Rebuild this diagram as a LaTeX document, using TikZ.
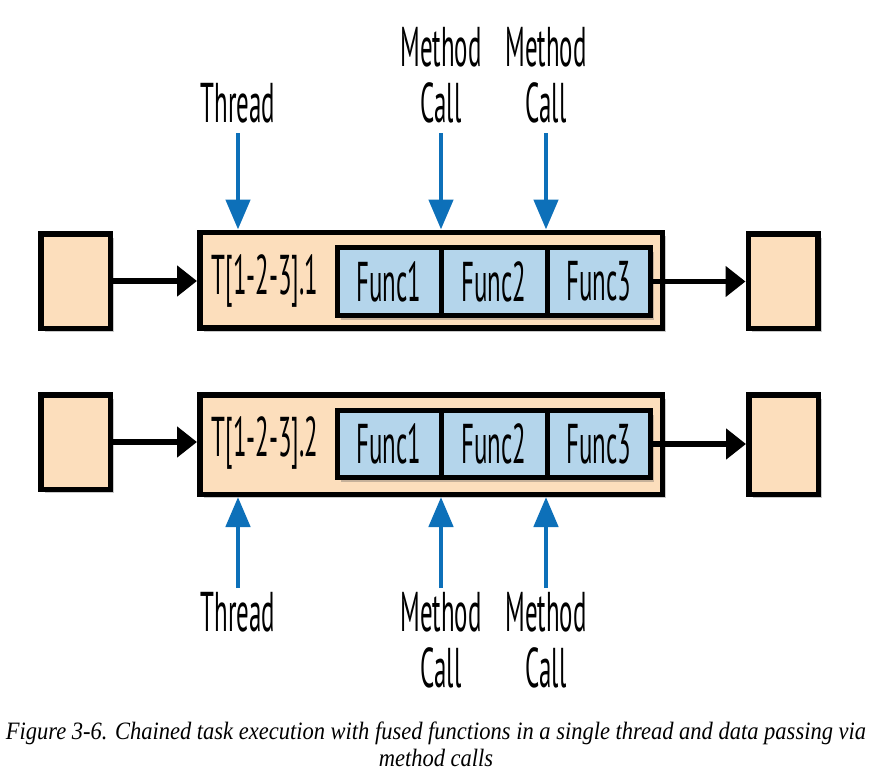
\documentclass[tikz,border=0pt]{standalone}
\usepackage{fontspec}
\setmainfont{Liberation Serif}
\newfontfamily\lblfont[FakeStretch=0.445]{PT Sans}
\newfontfamily\capfont[FakeStretch=0.9]{Liberation Serif}
\usetikzlibrary{arrows.meta,shadows}
\definecolor{peach}{HTML}{FCDEBC}
\definecolor{lblue}{HTML}{B4D5EB}
\definecolor{arrblue}{HTML}{0D70B9}
\tikzset{
  shd/.style={drop shadow={shadow xshift=4pt,shadow yshift=-4pt,opacity=0.3,fill=black!70}},
  smallbox/.style={draw=black,line width=5.5pt,fill=peach,minimum width=69.5pt,minimum height=94.5pt,inner sep=0pt,shd},
  mainbox/.style={draw=black,line width=5.5pt,fill=peach,minimum width=462.5pt,minimum height=95.5pt,inner sep=0pt,shd},
  cell/.style={draw=black,line width=5pt,fill=lblue,minimum height=68pt,inner sep=0pt,shd,font=\lblfont\fontsize{56}{56}\selectfont},
  txt/.style={inner sep=0pt,font=\lblfont\fontsize{56}{56}\selectfont},
  lbl/.style={inner sep=0pt,align=center,font=\lblfont\fontsize{56}{56}\selectfont},
  blarrow/.style={line width=5.5pt,-{Triangle[length=20pt,width=30pt]}},
  bluearrow/.style={line width=4.7pt,draw=arrblue,-{Triangle[length=30pt,width=24pt]},arrblue},
}
\begin{document}
\begin{tikzpicture}[x=1pt,y=-1pt]
\useasboundingbox (0,0) rectangle (876,784);
% Row 1
\node[smallbox] (lb1) at (75.5,281) {};
\node[mainbox] (main1) at (431,280) {};
\node[smallbox] (rb1) at (783,281) {};
\node[cell,minimum width=104pt] (f11) at (389,281.5) {Func1};
\node[cell,minimum width=106pt] (f12) at (494,281.5) {Func2};
\node[cell,minimum width=103pt] (f13) at (598.5,281.5) {Func3};
\node[txt] (t1) at (265,281) {T[1-2-3].1};
\draw[blarrow] (lb1.east) -- (lb1.east -| main1.west);
\draw[blarrow] (f13.east) -- (f13.east -| rb1.west);
% top labels
\node[lbl,anchor=south] (th1) at (238,123) {Thread};
\node[lbl,anchor=south] (mc1) at (441,123) {Method\\Call};
\node[lbl,anchor=south] (mc2) at (546,123) {Method\\Call};
\draw[bluearrow,shorten <=10pt] (th1.south) -- (th1.south |- main1.north);
\draw[bluearrow,shorten <=10pt] (mc1.south) -- (mc1.south |- main1.north);
\draw[bluearrow,shorten <=10pt] (mc2.south) -- (mc2.south |- main1.north);
% Row 2
\node[smallbox] (lb2) at (75.5,442) {};
\node[mainbox,minimum height=99.5pt] (main2) at (431,444.5) {};
\node[smallbox,minimum height=99.5pt] (rb2) at (783.5,444.5) {};
\node[cell,minimum width=104pt,minimum height=67pt] (f21) at (389,444) {Func1};
\node[cell,minimum width=106pt,minimum height=67pt] (f22) at (494,444) {Func2};
\node[cell,minimum width=103pt,minimum height=67pt] (f23) at (598.5,444) {Func3};
\node[txt] (t2) at (265,443) {T[1-2-3].2};
\draw[blarrow] (lb2.east) -- (lb2.east -| main2.west);
\draw[blarrow] (f23.east) -- (f23.east -| rb2.west);
% bottom labels
\node[lbl,anchor=north] (th2) at (238,592) {Thread};
\node[lbl,anchor=north] (mc3) at (441,592) {Method\\Call};
\node[lbl,anchor=north] (mc4) at (546,592) {Method\\Call};
\draw[bluearrow,shorten <=4pt] (th2.north) -- (th2.north |- main2.south);
\draw[bluearrow,shorten <=4pt] (mc3.north) -- (mc3.north |- main2.south);
\draw[bluearrow,shorten <=4pt] (mc4.north) -- (mc4.north |- main2.south);
% caption
\node[inner sep=0pt,align=center,font=\capfont\itshape\fontsize{25}{27}\selectfont] (cap) at (436,744)
  {Figure 3-6. Chained task execution with fused functions in a single thread and data passing via\\method calls};
\end{tikzpicture}
\end{document}
